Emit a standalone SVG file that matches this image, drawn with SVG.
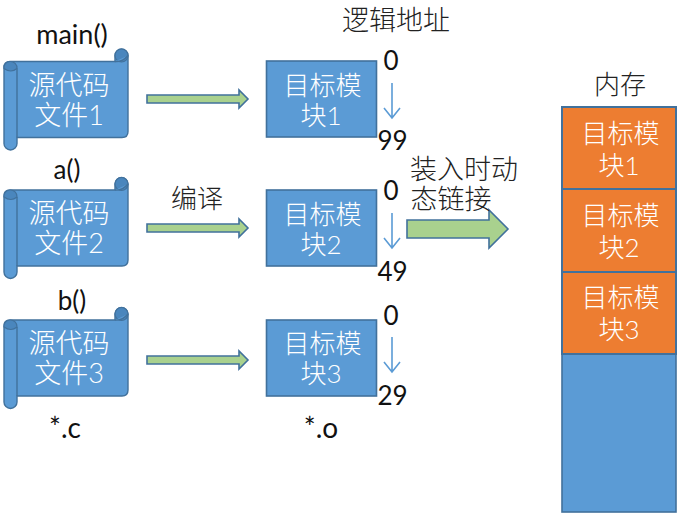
<svg xmlns="http://www.w3.org/2000/svg" width="682" height="523" viewBox="0 0 682 523">
<style>
  text { font-family: Lato, "Noto Sans CJK SC", sans-serif; font-weight: 300; }
  .inv { fill: #ffffff; text-anchor: middle; font-size: 26px; }
  .src { font-size: 27px; }
  .blk { fill: #111111; text-anchor: middle; font-size: 26px; font-weight: 400; }
  .cn { fill: #222222; text-anchor: middle; font-size: 26px; }
  .box { fill: #5b9bd5; stroke: #41719c; stroke-width: 1.6; }
  .mem { fill: #ed7d31; stroke: #41719c; stroke-width: 2; }
  .scroll { fill: #5b9bd5; stroke: #41719c; stroke-width: 1.4; }
  .dark { fill: #4a86bd; stroke: #41719c; stroke-width: 1.2; }
  .flow { fill: #a9d18e; stroke: #41719c; stroke-width: 1.6; }
  .down { fill: none; stroke: #5b9bd5; stroke-width: 1.6; }
</style>
<defs>
  <!-- scroll shape with curled corners, origin at the body's top-left -->
  <g id="scroll-shape">
    <path class="scroll" d="M4 6 Q4 0 10 0 H115 V-6 A6.500 6.500 0 0 1 128 -6 V70 Q128 76 122 76 H17 V82 A6.500 6.500 0 0 1 4 82 Z"/>
    <path class="dark" d="M115 -6 A6.500 6.500 0 0 1 128 -6 A6.500 6.500 0 0 1 115 -6 Z"/>
    <path class="scroll" d="M115 0 Q122 1 128 -6"/>
    <path class="dark" d="M10 0 A6.500 6.500 0 0 1 17 7 Q11 12 4 7 A6 6 0 0 1 10 0 Z"/>
    <path class="scroll" d="M17 7 V76"/>
  </g>
</defs>

<g id="connectors">
  <path class="flow" d="M147 95 H239 V90 L248 99 L239 108 V103 H147 Z"/>
  <path class="flow" d="M147 224 H239 V219 L248 228 L239 237 V232 H147 Z"/>
  <path class="flow" d="M147 356 H239 V351 L248 360 L239 369 V364 H147 Z"/>
  <path class="flow" d="M407 220 H489 V210 L508 229 L489 248 V238 H407 Z"/>
  <path class="down" d="M392 83 V118 M384 108 L392 118 L400 108"/>
  <path class="down" d="M392 213 V248 M384 238 L392 248 L400 238"/>
  <path class="down" d="M392 337 V372 M384 362 L392 372 L400 362"/>
</g>

<g id="source-1">
  <use href="#scroll-shape" transform="translate(0 61.500)"/>
  <text class="inv src" x="69" y="95">源代码</text>
  <text class="inv src" x="69" y="125">文件1</text>
</g>
<g id="source-2">
  <use href="#scroll-shape" transform="translate(0 190)"/>
  <text class="inv src" x="69" y="223">源代码</text>
  <text class="inv src" x="69" y="253">文件2</text>
</g>
<g id="source-3">
  <use href="#scroll-shape" transform="translate(0 320)"/>
  <text class="inv src" x="69" y="353">源代码</text>
  <text class="inv src" x="69" y="383">文件3</text>
</g>

<g id="module-1">
  <rect class="box" x="266.500" y="61" width="110" height="76"/>
  <text class="inv" x="322.500" y="95">目标模</text>
  <text class="inv" x="321" y="125">块1</text>
</g>
<g id="module-2">
  <rect class="box" x="266.500" y="190" width="110" height="76"/>
  <text class="inv" x="322.500" y="224">目标模</text>
  <text class="inv" x="321" y="254">块2</text>
</g>
<g id="module-3">
  <rect class="box" x="266.500" y="320" width="110" height="76"/>
  <text class="inv" x="322.500" y="353">目标模</text>
  <text class="inv" x="321" y="383">块3</text>
</g>

<g id="memory">
  <rect class="box" x="562" y="354" width="114" height="158"/>
  <rect class="mem" x="562" y="107" width="114" height="82"/>
  <rect class="mem" x="562" y="189" width="114" height="83"/>
  <rect class="mem" x="562" y="272" width="114" height="82"/>
  <text class="inv" x="620.500" y="143">目标模</text>
  <text class="inv" x="619" y="175">块1</text>
  <text class="inv" x="620.500" y="225">目标模</text>
  <text class="inv" x="619" y="257">块2</text>
  <text class="inv" x="620.500" y="307">目标模</text>
  <text class="inv" x="619" y="339">块3</text>
</g>

<g id="labels">
  <text class="blk" x="72" y="44" style="font-size:27px">main()</text>
  <text class="blk" x="67" y="179">a()</text>
  <text class="blk" x="72" y="310">b()</text>
  <text class="blk" x="65" y="438" style="font-size:28px">*.c</text>
  <text class="blk" x="321" y="438" style="font-size:28px">*.o</text>
  <text class="blk" x="391" y="70">0</text>
  <text class="blk" x="392.500" y="150">99</text>
  <text class="blk" x="391" y="200">0</text>
  <text class="blk" x="392.500" y="281">49</text>
  <text class="blk" x="391" y="325">0</text>
  <text class="blk" x="392.500" y="405">29</text>
  <text class="cn" x="396" y="30" style="font-size:27px">逻辑地址</text>
  <text class="cn" x="620" y="94">内存</text>
  <text class="cn" x="197" y="208">编译</text>
  <text class="cn" x="464" y="179" style="font-size:27px">装入时动</text>
  <text class="cn" x="451" y="209" style="font-size:27px">态链接</text>
</g>
</svg>
